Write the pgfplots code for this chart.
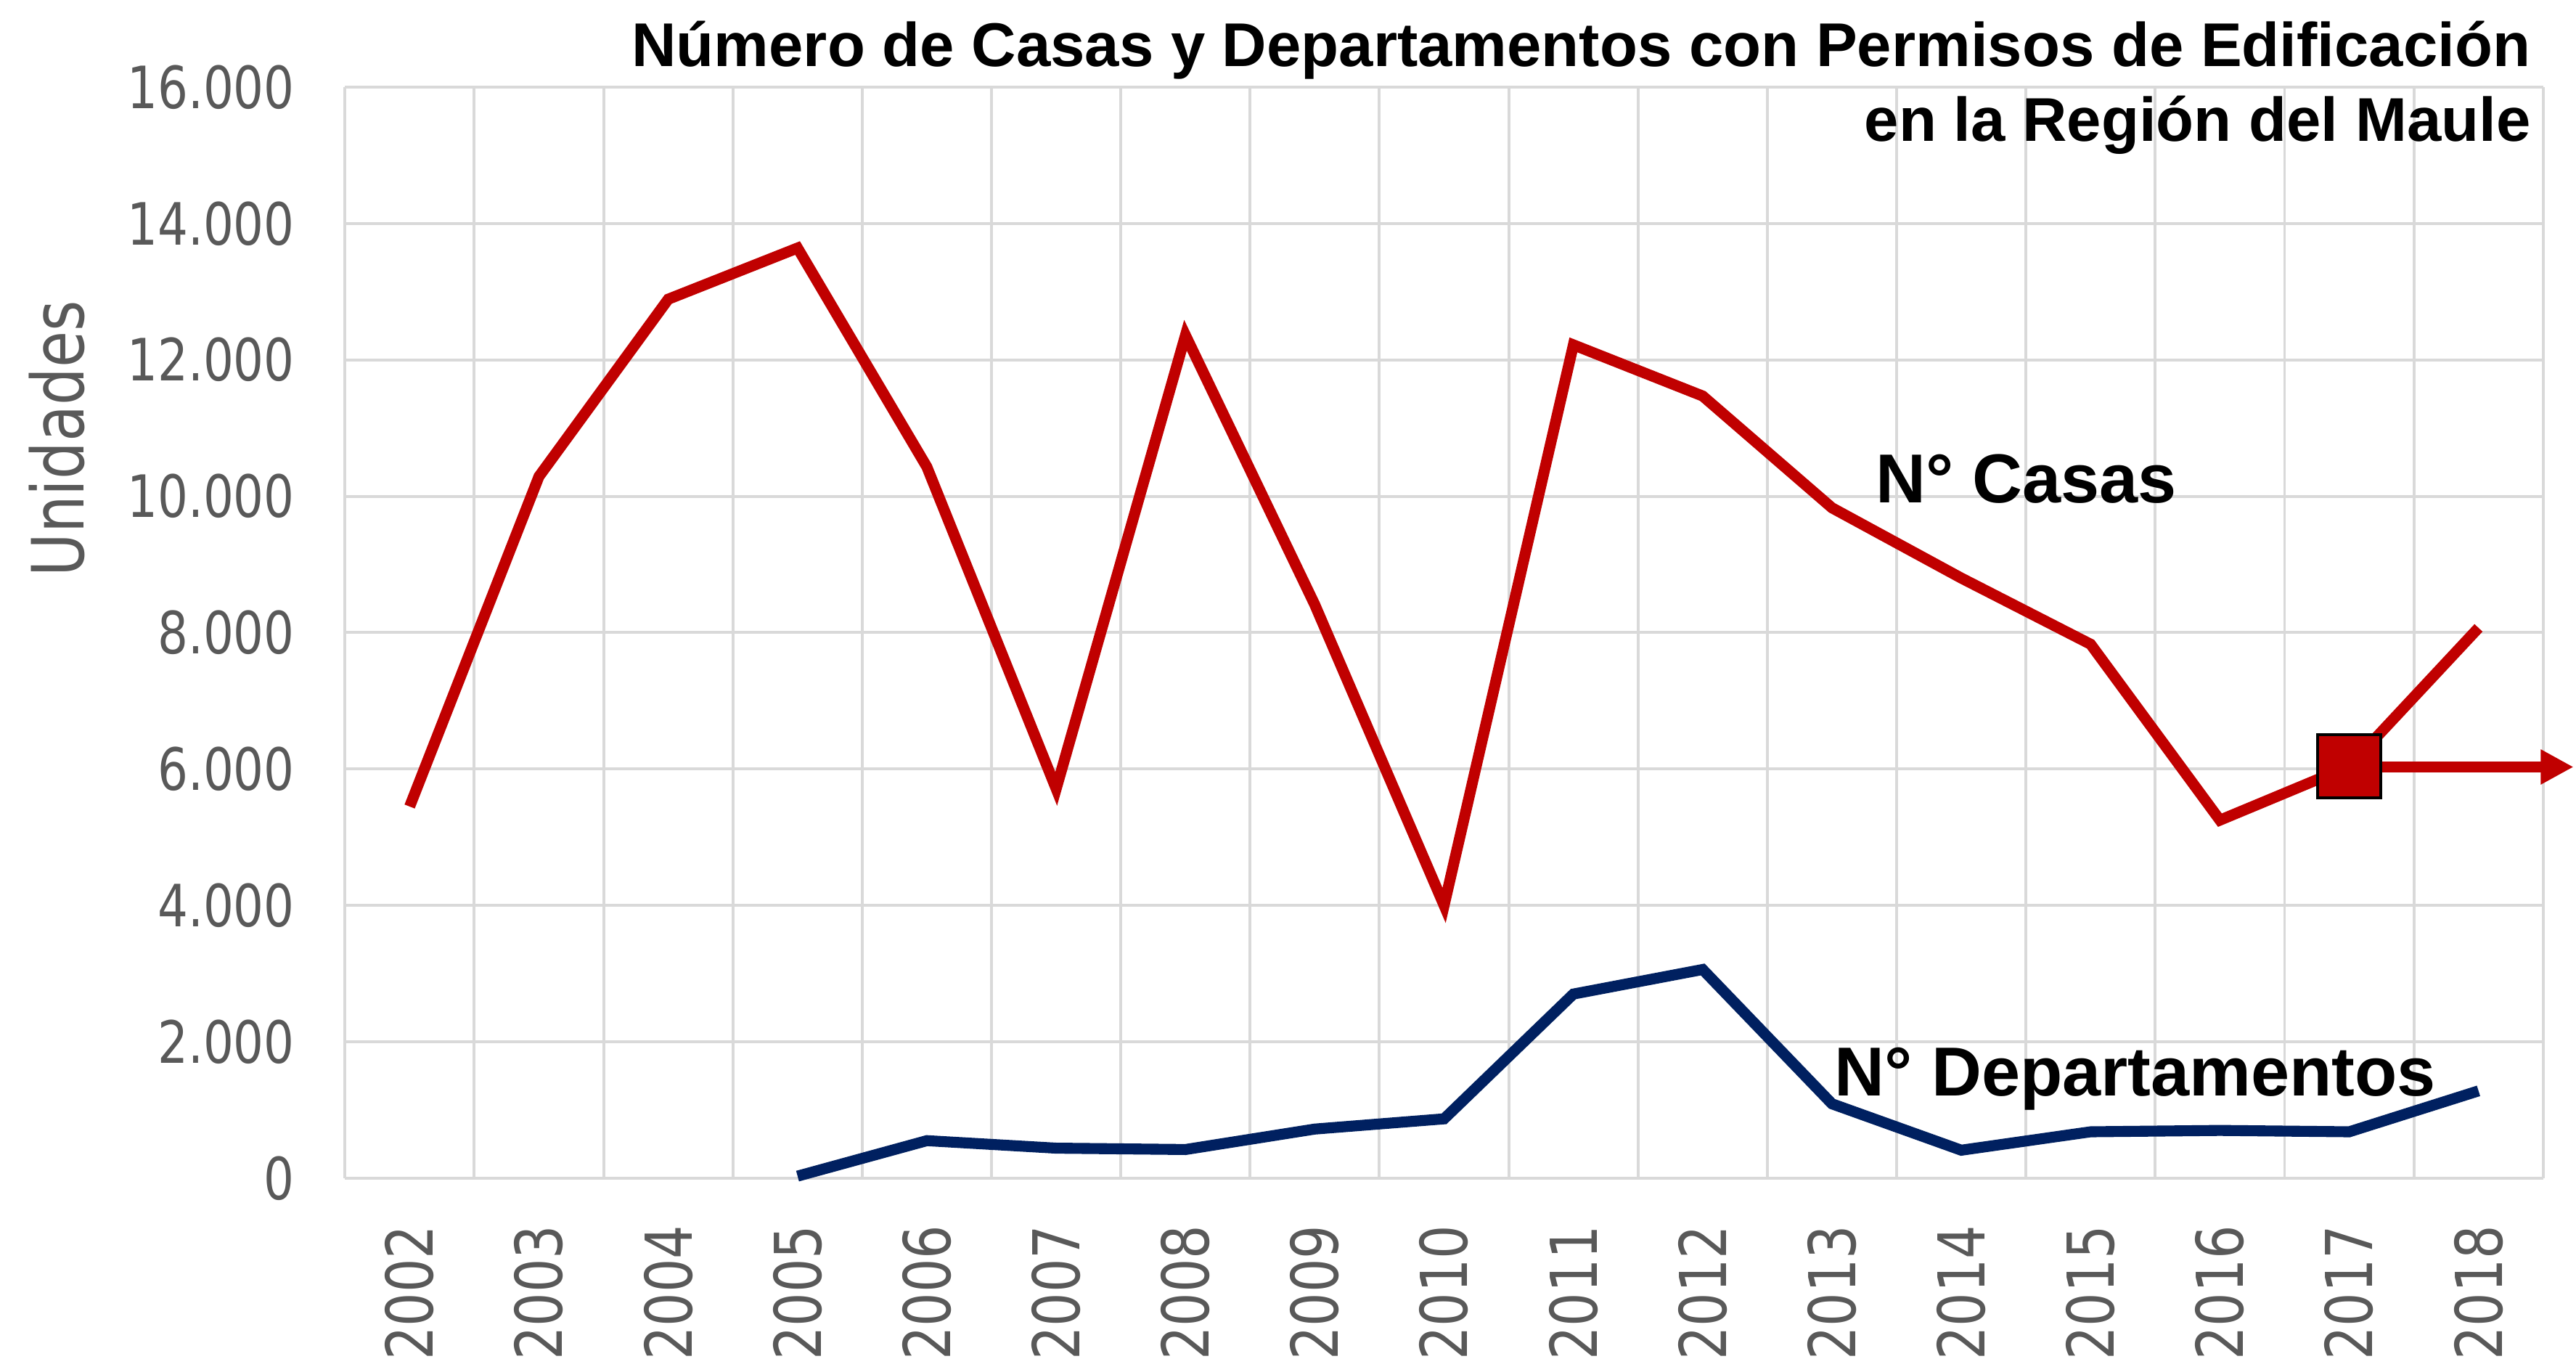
\documentclass[border=0pt]{standalone}
\usepackage{fontspec}
\setmainfont{Liberation Sans}
\newfontfamily\tickfont[FakeStretch=0.82]{DejaVu Sans}
\usepackage{pgfplots}
\pgfplotsset{compat=1.18}
\usetikzlibrary{arrows.meta}
\definecolor{casas}{HTML}{C00000}
\definecolor{deptos}{HTML}{002060}
\definecolor{gridc}{HTML}{D9D9D9}
\definecolor{txtgray}{HTML}{595959}

\begin{document}
\begin{tikzpicture}
\useasboundingbox (-2.10,-1.10) rectangle (13.58,7.17);
\begin{axis}[
  at={(0,0)}, anchor=south west,
  scale only axis, width=13.38cm, height=6.64cm,
  xmin=-0.5, xmax=16.5, ymin=0, ymax=16000,
  xtick={0,...,16},
  xticklabels={2002,2003,2004,2005,2006,2007,2008,2009,2010,2011,2012,2013,2014,2015,2016,2017,2018},
  minor xtick={-0.5,0.5,...,16.5},
  xminorgrids=true, xmajorgrids=false, ymajorgrids=true,
  grid style={gridc, line width=0.5pt},
  minor grid style={gridc, line width=0.5pt},
  ytick={0,2000,...,16000},
  yticklabels={0,2.000,4.000,6.000,8.000,10.000,12.000,14.000,16.000},
  scaled y ticks=false,
  major tick length=0pt, minor tick length=0pt,
  axis line style={draw=none},
  xticklabel style={font=\tickfont\fontsize{11.2}{12}\selectfont, text=txtgray, rotate=90, anchor=east, inner sep=0pt},
  yticklabel style={font=\tickfont\fontsize{10.1}{12}\selectfont, text=txtgray, anchor=east, inner sep=0pt},
  xticklabel shift=0.28cm, yticklabel shift=0.3cm,
  clip=false,
]
\addplot[deptos, line width=1.9pt] coordinates {
  (3,30) (4,550) (5,440) (6,420) (7,720) (8,870) (9,2700) (10,3060)
  (11,1090) (12,410) (13,680) (14,700) (15,680) (16,1280)
};
\addplot[casas, line width=1.9pt] coordinates {
  (0,5450) (1,10290) (2,12890) (3,13640) (4,10430) (5,5710) (6,12360)
  (7,8410) (8,4000) (9,12220) (10,11470) (11,9830) (12,8800) (13,7830)
  (14,5250) (15,6040) (16,8070)
};
\draw[casas, line width=1.9pt, -{Triangle[length=0.2cm,width=0.2cm]}] (axis cs:15.25,6030) -- (axis cs:16.735,6030);
\addplot[only marks, mark=square*, mark size=5.5pt, mark options={fill=casas, draw=black, line width=0.5pt}] coordinates {(15,6040)};
\end{axis}
\node[anchor=base east, inner sep=0pt, font=\bfseries\fontsize{10.7}{12}\selectfont] at (13.31,6.765) {Número de Casas y Departamentos con Permisos de Edificación};
\node[anchor=base east, inner sep=0pt, font=\bfseries\fontsize{10.7}{12}\selectfont] at (13.31,6.31) {en la Región del Maule};
\node[anchor=base west, inner sep=0pt, font=\bfseries\fontsize{12}{14}\selectfont] at (9.31,4.11) {N° Casas};
\node[anchor=base west, inner sep=0pt, font=\bfseries\fontsize{12}{14}\selectfont] at (9.06,0.50) {N° Departamentos};
\node[rotate=90, inner sep=0pt, font=\tickfont\fontsize{12.5}{14}\selectfont, text=txtgray] at (-1.755,4.50) {Unidades};
\end{tikzpicture}
\end{document}
